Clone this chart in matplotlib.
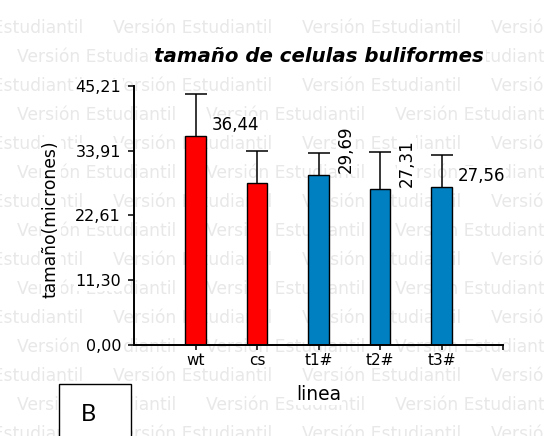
import matplotlib
matplotlib.use('Agg')
import matplotlib.pyplot as plt
from matplotlib.patches import Rectangle

# ---- data ----
categories = ['wt', 'cs', 't1#', 't2#', 't3#']
means = [36.44, 28.30, 29.69, 27.31, 27.56]
errors = [7.37, 5.58, 3.85, 6.43, 5.60]
bar_colors = ['#ff0000', '#ff0000', '#0080c0', '#0080c0', '#0080c0']
value_labels = ['36,44', None, '29,69', '27,31', '27,56']
value_rot = [0, 0, 90, 90, 0]
yticks = [0.0, 11.30, 22.61, 33.91, 45.21]
ytick_labels = ['0,00', '11,30', '22,61', '33,91', '45,21']
title = 'tamaño de celulas buliformes'
xlabel = 'linea'
ylabel = 'tamaño(micrones)'
watermark = 'Versión Estudiantil'
panel_letter = 'B'

plt.rcParams['font.family'] = ['DejaVu Sans']

W, H = 544, 436
fig = plt.figure(figsize=(W / 100, H / 100), dpi=100)

# watermark (behind everything)
for k in range(16):
    yy = 28 + 29 * k
    start = -76 if k % 2 == 0 else 16.7
    for j in range(4):
        xx = start + 189 * j
        fig.text(xx / W, 1 - yy / H, watermark, fontsize=12.3, color='#e8e8e8',
                 ha='left', va='center', zorder=-10)

ax = fig.add_axes([134 / W, (H - 345) / H, 369 / W, 259 / H])
ax.set_facecolor('none')

xpos = list(range(1, len(categories) + 1))
ax.bar(xpos, means, width=0.34, color=bar_colors, edgecolor='black',
       linewidth=1.0, zorder=2)
eb = ax.errorbar(xpos, means, yerr=[[0] * len(errors), errors], fmt='none',
                 ecolor='black', elinewidth=1.1, capsize=8, capthick=1.1, zorder=1)
for cl in eb[1]:
    yd = list(cl.get_ydata())
    if all(abs(a - b) < 1e-9 for a, b in zip(yd, means)):
        cl.set_visible(False)

for xi, m, lab, rot in zip(xpos, means, value_labels, value_rot):
    if lab is None:
        continue
    if rot == 0:
        ax.annotate(lab, (xi, m), xytext=(16, 11), textcoords='offset pixels',
                    ha='left', va='center', fontsize=12, zorder=3,
                    bbox=dict(facecolor='white', edgecolor='none', pad=0.5))
    else:
        ax.annotate(lab, (xi, m), xytext=(27, 2), textcoords='offset pixels',
                    ha='center', va='bottom', rotation=90, fontsize=12, zorder=3,
                    bbox=dict(facecolor='white', edgecolor='none', pad=0.5))

ax.set_xlim(0, 6)
ax.set_ylim(0, 45.21)
ax.set_yticks(yticks)
ax.set_yticklabels(ytick_labels)
ax.set_xticks(xpos + [6])
ax.set_xticklabels(categories + [''])

for s in ['top', 'right']:
    ax.spines[s].set_visible(False)
for s in ['left', 'bottom']:
    ax.spines[s].set_linewidth(1.4)

ax.tick_params(axis='y', direction='out', length=4.3, width=1.1, labelsize=11.5, pad=5)
ax.tick_params(axis='x', direction='out', length=3.6, width=1.1, labelsize=11, pad=2.5)
for lbl in ax.get_yticklabels():
    lbl.set_bbox(dict(facecolor='white', edgecolor='none', pad=1))

fig.text(318.5 / W, 1 - 61.5 / H, title, ha='center', va='baseline', fontsize=14.2,
         fontweight='bold', fontstyle='italic',
         bbox=dict(facecolor='white', edgecolor='none', pad=2))
fig.text(318.5 / W, 1 - 400 / H, xlabel, ha='center', va='baseline', fontsize=13.5,
         bbox=dict(facecolor='white', edgecolor='none', pad=0.5))
fig.text(51 / W, 1 - 219 / H, ylabel, rotation=90, ha='center', va='center',
         fontsize=12.3, bbox=dict(facecolor='white', edgecolor='none', pad=1))

# panel letter box
fig.patches.append(Rectangle((59 / W, -0.05), 72 / W, (H - 384) / H + 0.05,
                             transform=fig.transFigure, facecolor='white',
                             edgecolor='black', linewidth=1.0, zorder=1))
fig.text(88.5 / W, 1 - 414 / H, panel_letter, ha='center', va='center',
         fontsize=17, family=['Lato', 'DejaVu Sans'], zorder=2)

fig.savefig('out.png', dpi=100)
